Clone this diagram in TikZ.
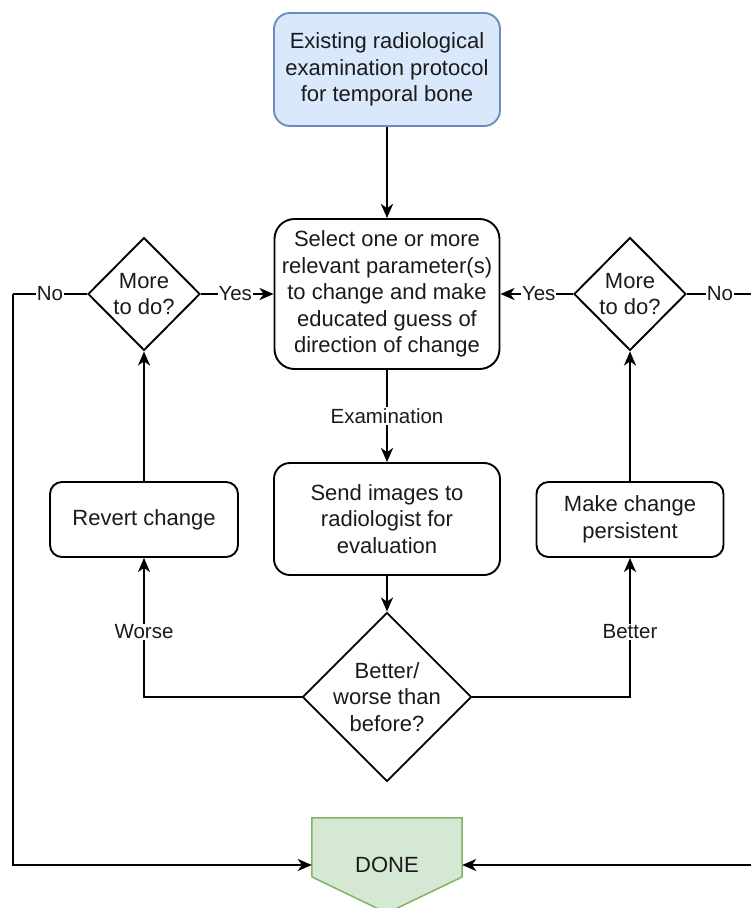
\documentclass[tikz,border=0pt]{standalone}
\usepackage{fontspec}
\setmainfont{Liberation Sans}
\usetikzlibrary{arrows.meta,shapes.geometric}
\definecolor{bluefill}{HTML}{DAE8FC}
\definecolor{bluedraw}{HTML}{6C8EBF}
\definecolor{greenfill}{HTML}{D5E8D4}
\definecolor{greendraw}{HTML}{82B366}
\definecolor{txt}{HTML}{1A1A1A}
\begin{document}
\begin{tikzpicture}[x=1pt,y=-1pt,
  every node/.style={font=\fontsize{22}{26.6}\selectfont, align=center, text=txt},
  box/.style={draw=black, line width=1.9pt, rounded corners=#1, inner sep=0pt, fill=white},
  dia/.style={draw=black, line width=1.9pt, shape=diamond, aspect=1, inner sep=#1, fill=white},
  lbl/.style={font=\fontsize{20.5}{24}\selectfont, fill=white, inner sep=1pt},
  arr/.style={line width=1.9pt, -{Stealth[length=14pt,width=12pt,inset=4pt]}},
  ln/.style={line width=1.9pt}
]
\useasboundingbox (0,0) rectangle (751,908);
\clip (0,0) rectangle (751,908);

% nodes
\node[box=16pt, fill=bluefill, draw=bluedraw, minimum width=226pt, minimum height=113pt] (top) at (387,69.5)
  {\raisebox{0pt}{}Existing radiological\\examination protocol\\for temporal bone};
\node[box=20pt, minimum width=225pt, minimum height=150pt] (sel) at (387,294)
  {Select one or more\\relevant parameter(s)\\to change and make\\educated guess of\\direction of change};
\node[box=16pt, minimum width=226pt, minimum height=112pt] (send) at (387,519)
  {Send images to\\radiologist for\\evaluation};
\node[box=12pt, minimum width=188pt, minimum height=75pt] (rev) at (144,519.5) {Revert change};
\node[box=12pt, minimum width=187pt, minimum height=75pt] (per) at (630,519.5) {Make change\\persistent};
\node[dia=0pt, minimum width=112pt, minimum height=113pt] (ldia) at (144,294) {More\\to do?};
\node[dia=0pt, minimum width=112pt, minimum height=113pt] (rdia) at (630,294) {More\\to do?};
\node[dia=-6pt, minimum width=169pt, minimum height=169pt] (dec) at (387,697) {Better/\\worse than\\before?};

% DONE off-page shape
\node[minimum width=150pt, minimum height=94pt, inner sep=0pt] (done) at (387,865) {};
\draw[line width=1.5pt, draw=greendraw, fill=greenfill]
  (done.north west) -- (done.north east) -- (462,877) -- (387,913) -- (312,877) -- cycle;
\node at (done.center) {DONE};

\coordinate (lc1) at (13,294);
\coordinate (lc2) at (13,865);
\coordinate (rc1) at (753,294);
\coordinate (rc2) at (753,865);

% connectors
\draw[arr] (top.south) -- (sel.north);
\draw[arr] (sel.south) -- node[lbl] {Examination} (send.north);
\draw[arr] (send.south) -- (dec.north);
\draw[arr] (dec.west) -| node[lbl, pos=0.735] {Worse} (rev.south);
\draw[arr] (dec.east) -| node[lbl, pos=0.735] {Better} (per.south);
\draw[arr] (rev.north) -- (ldia.south);
\draw[arr] (per.north) -- (rdia.south);
\draw[arr] (ldia.east) -- node[lbl, xshift=-2pt] {Yes} (sel.west);
\draw[arr] (rdia.west) -- node[lbl, xshift=2pt] {Yes} (sel.east);
\draw[ln] (ldia.west) -- node[lbl] {No} (lc1);
\draw[arr] (lc1) -- (lc2) -- (done.west);
\draw[ln] (rdia.east) -- node[lbl] {No} (rc1);
\draw[arr] (rc1) -- (rc2) -- (done.east);
\end{tikzpicture}
\end{document}
